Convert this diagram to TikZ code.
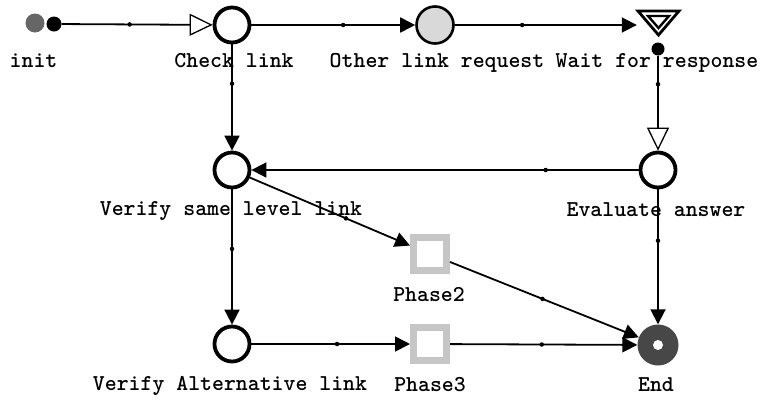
\documentclass[tikz,border=0pt]{standalone}
\usepackage{fontspec}
\usetikzlibrary{arrows.meta}
\begin{document}
\begin{tikzpicture}[x=1pt,y=-1pt,
  state/.style={circle, draw=black, line width=3.8pt, fill=white,
                minimum size=35pt, inner sep=0pt},
  request/.style={circle, draw=black, line width=2.6pt, fill=gray!30,
                  minimum size=37pt, inner sep=0pt},
  phase/.style={rectangle, draw=gray!45, line width=7pt, fill=white,
                minimum size=33pt, inner sep=0pt},
  final/.style={circle, fill=black!72, draw=none, minimum size=41pt, inner sep=0pt,
                path picture={\fill[white] (path picture bounding box.center) circle (5pt);}},
  blob/.style={circle, fill=black, draw=none, inner sep=0pt},
  lbl/.style={anchor=base, inner sep=0pt, font=\fontsize{22.7}{26}\ttfamily\bfseries},
  conn/.style={line width=1.8pt, -{Triangle[length=15pt,width=15pt]}},
  openconn/.style={line width=1.8pt, -{Triangle[open,length=23pt,width=22pt,line width=1.3pt]}},
  mid/.style={circle, fill=black, inner sep=0pt, minimum size=4.5pt}
]
\useasboundingbox (0,0) rectangle (762,400);

% places and transitions
\node[blob, fill=black!60, minimum size=19pt] (initg) at (35,23) {};
\node[blob, minimum size=15pt] (init) at (54,24) {};
\node[state] (chk) at (232,25) {};
\node[request] (olr) at (435,25) {};
\node[minimum width=42pt, minimum height=25pt, inner sep=0pt] (wait) at (658,22.5) {};
\draw[line width=2.8pt, line join=miter] (638,11) -- (679,11) -- (658.5,35) -- cycle;
\draw[line width=2.4pt, line join=miter] (648,16) -- (669,16) -- (658.5,28) -- cycle;
\node[blob, minimum size=13pt] (waitdot) at (658,49) {};
\node[state] (eval) at (658,170) {};
\node[state] (vsl) at (232,170) {};
\node[state] (val) at (232,344) {};
\node[phase] (ph2) at (430,254) {};
\node[phase] (ph3) at (430,344) {};
\node[final] (endn) at (658,345) {};

% labels
\node[lbl] (tinit) at (33.5,67) {init};
\node[lbl] (tchk) at (234,67) {Check link};
\node[lbl] (tolr) at (437,67) {Other link request};
\node[lbl] (twait) at (657,67) {Wait for response};
\node[lbl] (tvsl) at (231,215) {Verify same level link};
\node[lbl] (teval) at (656,216) {Evaluate answer};
\node[lbl] (tph2) at (429,301) {Phase2};
\node[lbl] (tval) at (230,390) {Verify Alternative link};
\node[lbl] (tph3) at (430,391) {Phase3};
\node[lbl] (tend) at (656,391) {End};

% connectors
\draw[openconn] (init) -- node[mid, pos=0.45] (d1) {} (chk);
\draw[conn] (chk) -- node[mid, pos=0.56] (d2) {} (olr);
\draw[conn] (olr) -- node[mid, pos=0.37] (d3) {} (olr -| wait.west);
\draw[openconn] (waitdot) -- node[mid, pos=0.3] (d4) {} (eval);
\draw[conn] (eval) -- node[mid, pos=0.24] (d5) {} (vsl);
\draw[conn] (chk) -- node[mid, pos=0.37] (d6) {} (vsl);
\draw[conn] (vsl) -- node[mid, pos=0.6] (d7) {} (ph2);
\draw[conn] (vsl) -- node[mid, pos=0.44] (d8) {} (val);
\draw[conn] (val) -- node[mid, pos=0.54] (d9) {} (ph3);
\draw[conn] (ph2) -- node[mid, pos=0.49] (d10) {} (endn);
\draw[conn] (ph3) -- node[mid, pos=0.49] (d11) {} (endn);
\draw[conn] (eval) -- node[mid, pos=0.38] (d12) {} (endn);
\end{tikzpicture}
\end{document}
